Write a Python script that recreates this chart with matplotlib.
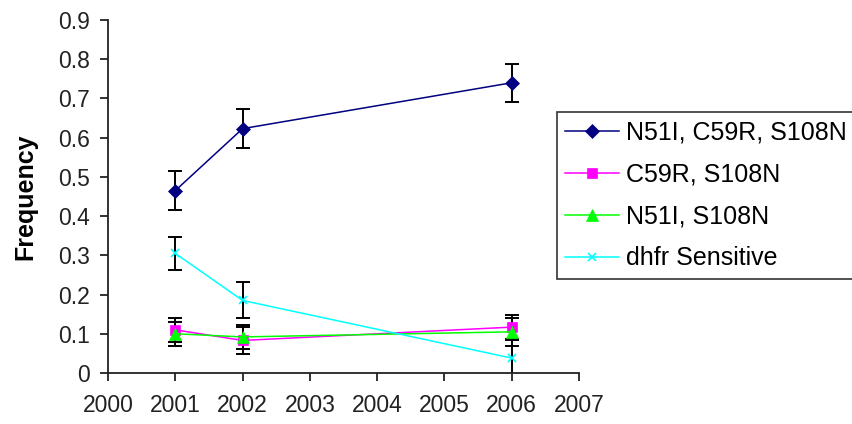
import matplotlib.pyplot as plt

plt.rcParams["font.family"] = ["Liberation Sans", "DejaVu Sans"]

years = [2001, 2002, 2006]

triple_mutant = [0.465, 0.623, 0.740]
triple_err = [0.050, 0.050, 0.048]

c59r_s108n = [0.110, 0.083, 0.117]
c59r_err = [0.030, 0.035, 0.030]

n51i_s108n = [0.100, 0.092, 0.105]
n51i_err = [0.030, 0.030, 0.035]

sensitive = [0.305, 0.185, 0.038]
sensitive_err = [0.043, 0.046, 0.045]

series = [
    ("N51I, C59R, S108N", triple_mutant, triple_err, "#000080", "D", 7),
    ("C59R, S108N", c59r_s108n, c59r_err, "#FF00FF", "s", 7),
    ("N51I, S108N", n51i_s108n, n51i_err, "#00FF00", "^", 8),
    ("dhfr Sensitive", sensitive, sensitive_err, "#00FFFF", "x", 6),
]

fig = plt.figure(figsize=(8.53, 4.24), dpi=100)
ax = fig.add_axes([108 / 853, 51 / 424, 471 / 853, 353 / 424])

for label, values, errs, color, marker, size in series:
    ax.errorbar(years, values, yerr=errs, ecolor="black", elinewidth=1.4,
                capsize=4.8, capthick=1.4, fmt="none", zorder=2)
    ax.plot(years, values, color=color, marker=marker, markersize=size,
            markeredgewidth=1.2 if marker == "x" else 0.5, linewidth=1.1,
            label=label, zorder=3)

ax.set_xlim(2000, 2007)
ax.set_ylim(0, 0.9)
ax.set_xticks(range(2000, 2008))
ax.set_yticks([i / 10 for i in range(10)])
ax.set_yticklabels(["0"] + [f"0.{i}" for i in range(1, 10)])

for side in ("top", "right"):
    ax.spines[side].set_visible(False)
for side in ("left", "bottom"):
    ax.spines[side].set_linewidth(1.3)
    ax.spines[side].set_color("#222222")

ax.tick_params(axis="both", direction="out", length=6, width=1.3,
               colors="#222222", labelsize=16.5, labelcolor="#222222")
ax.tick_params(axis="y", pad=7)
ax.tick_params(axis="x", pad=9)

ax.set_ylabel("Frequency", fontsize=18, fontweight="bold")
ax.yaxis.set_label_coords(-0.151, 0.5)

leg = fig.legend(loc="upper left", bbox_to_anchor=(557 / 853, 1 - 112 / 424),
                 fontsize=18, frameon=True, fancybox=False, shadow=False,
                 borderpad=0.33, labelspacing=0.72, handlelength=2.15,
                 handletextpad=0.28, borderaxespad=0)
leg.get_frame().set_edgecolor("black")
leg.get_frame().set_linewidth(1.2)

fig.savefig("out.png", dpi=100)
